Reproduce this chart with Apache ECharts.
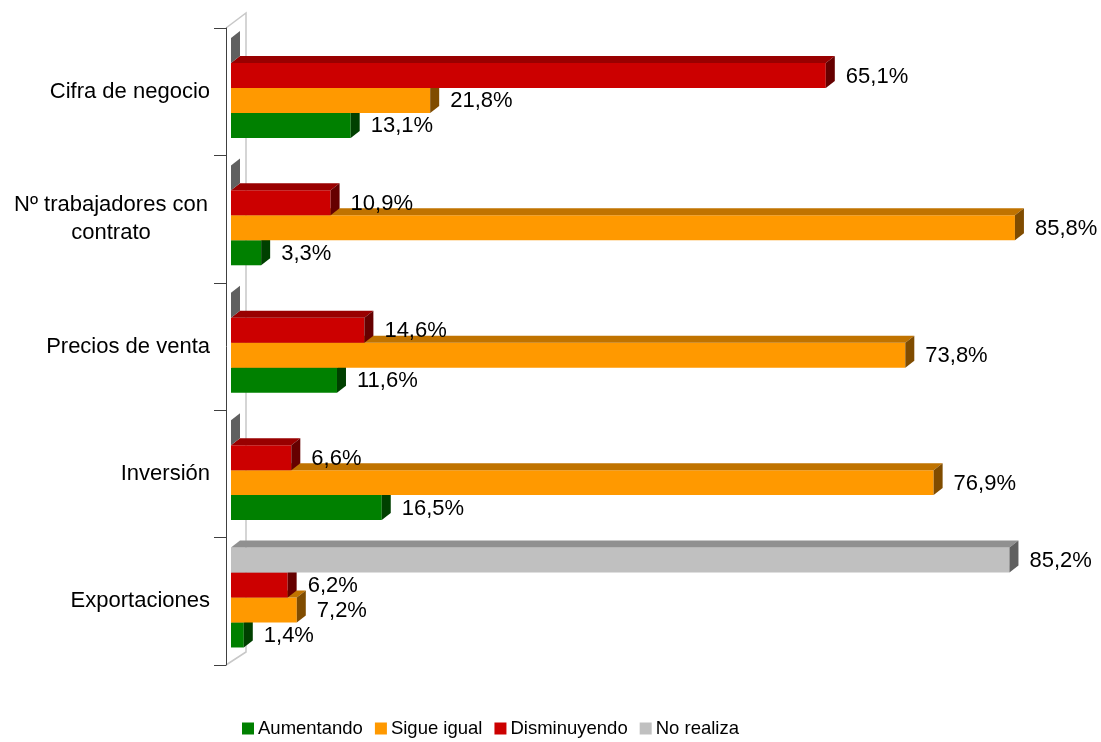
<!DOCTYPE html>
<html>
<head>
<meta charset="utf-8">
<script src="https://cdn.jsdelivr.net/npm/echarts@6/dist/echarts.min.js"></script>
<style>
  html, body { margin: 0; padding: 0; background: #fff; }
  #chart { width: 1101px; height: 742px; }
</style>
</head>
<body>
<div id="chart"></div>
<script>
const categories = ['Cifra de negocio', 'Nº trabajadores con contrato', 'Precios de venta', 'Inversión', 'Exportaciones'];
const seriesNames = ['Aumentando', 'Sigue igual', 'Disminuyendo', 'No realiza'];
const aumentando = [13.1, 3.3, 11.6, 16.5, 1.4];
const sigueIgual = [21.8, 85.8, 73.8, 76.9, 7.2];
const disminuyendo = [65.1, 10.9, 14.6, 6.6, 6.2];
const noRealiza = [0, 0, 0, 0, 85.2];

const FONT = "'Liberation Sans', Arial, sans-serif";
const GRID = { left: 231, right: 2, top: 28, bottom: 77 };
const DX = 9;
const DY = 7;

// front / top / side shades for each series
const palettes = {
  'Aumentando': ['#008000', '#006000', '#004000'],
  'Sigue igual': ['#FF9900', '#C07300', '#804C00'],
  'Disminuyendo': ['#CC0000', '#990000', '#660000'],
  'No realiza': ['#C0C0C0', '#909090', '#606060']
};

function fmt(v) {
  return v.toFixed(1).replace('.', ',') + '%';
}

// slot 0 is the topmost bar inside a category band
function makeRenderer(slot, pal) {
  return function (params, api) {
    const val = api.value(0);
    const cat = api.value(1);
    const p0 = api.coord([0, cat]);
    const p1 = api.coord([val, cat]);
    const band = api.size([0, 1])[1];
    const h = band * 0.196;
    const y0 = p0[1] - band / 2 + band * 0.0785 + slot * h;
    const x0 = p0[0];
    const x1 = p1[0];
    const children = [];
    if (x1 > x0) {
      children.push({
        type: 'rect',
        shape: { x: x0, y: y0, width: x1 - x0, height: h },
        style: { fill: pal[0] }
      });
      children.push({
        type: 'polygon',
        shape: { points: [[x0, y0], [x0 + DX, y0 - DY], [x1 + DX, y0 - DY], [x1, y0]] },
        style: { fill: pal[1] }
      });
    }
    children.push({
      type: 'polygon',
      shape: { points: [[x1, y0], [x1 + DX, y0 - DY], [x1 + DX, y0 + h - DY], [x1, y0 + h]] },
      style: { fill: pal[2] }
    });
    if (val > 0) {
      children.push({
        type: 'text',
        style: {
          x: x1 + 20,
          y: y0 + h / 2 + 1,
          text: fmt(val),
          fill: '#000',
          font: '22px ' + FONT,
          verticalAlign: 'middle',
          align: 'left'
        }
      });
    }
    return { type: 'group', children: children };
  };
}

const dataSets = [aumentando, sigueIgual, disminuyendo, noRealiza];
const slots = [3, 2, 1, 0];

const series = seriesNames.map((name, i) => ({
  name: name,
  type: 'custom',
  renderItem: makeRenderer(slots[i], palettes[name]),
  encode: { x: 0, y: 1 },
  itemStyle: { color: palettes[name][0] },
  data: dataSets[i].map((v, idx) => [v, idx]),
  z: 2 + i
}));

const chart = echarts.init(document.getElementById('chart'));

const axisX = GRID.left - 5;
const bottomY = 742 - GRID.bottom;

chart.setOption({
  animation: false,
  backgroundColor: '#fff',
  textStyle: { fontFamily: FONT },
  grid: GRID,
  xAxis: {
    type: 'value',
    min: 0,
    max: 95,
    show: false
  },
  yAxis: {
    type: 'category',
    inverse: true,
    data: categories,
    offset: 5,
    z: 10,
    axisLine: { show: true, onZero: false, lineStyle: { color: '#404040', width: 1 } },
    axisTick: { show: true, length: 12, lineStyle: { color: '#404040' } },
    axisLabel: {
      margin: 16,
      fontSize: 22,
      color: '#000',
      fontFamily: FONT,
      formatter: function (v) {
        if (v === 'Nº trabajadores con contrato') {
          return '{c|Nº trabajadores con}\n{c|contrato}';
        }
        return v;
      },
      rich: {
        c: { width: 198, align: 'center', fontSize: 22, color: '#000', fontFamily: FONT, lineHeight: 28 }
      }
    }
  },
  legend: {
    top: 719,
    left: 242,
    padding: 0,
    icon: 'rect',
    itemWidth: 12,
    itemHeight: 12,
    itemGap: 12,
    textStyle: { fontSize: 18.5, color: '#000', fontFamily: FONT, padding: [0, 0, 0, -1] },
    data: seriesNames
  },
  graphic: [{
    type: 'polyline',
    z: 0,
    shape: {
      points: [[axisX, GRID.top], [axisX + 20, GRID.top - 15], [axisX + 20, bottomY - 13], [axisX, bottomY]]
    },
    style: { stroke: '#C8C8C8', lineWidth: 1.5, fill: null }
  }],
  series: series
});
</script>
</body>
</html>
